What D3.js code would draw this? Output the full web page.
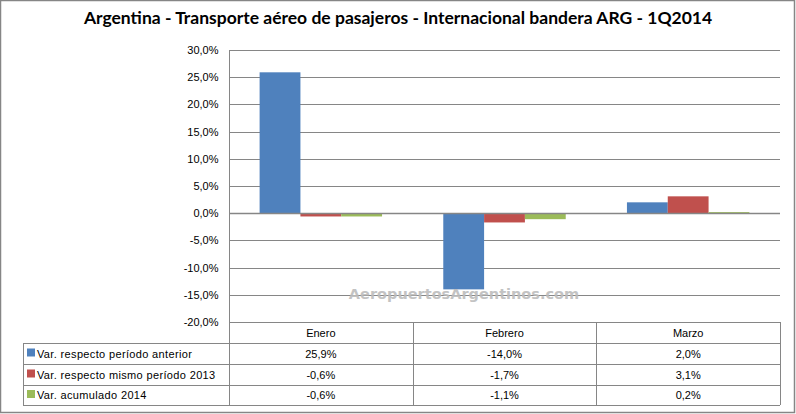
<!DOCTYPE html>
<html><head><meta charset="utf-8">
<script src="https://cdn.jsdelivr.net/npm/d3@7"></script>
<style>body{margin:0;background:#fff}svg{display:block}</style>
</head><body>
<script>
const title = "Argentina - Transporte aéreo de pasajeros - Internacional bandera ARG - 1Q2014";
const categories = ["Enero", "Febrero", "Marzo"];
const seriesNames = ["Var. respecto período anterior", "Var. respecto mismo período 2013", "Var. acumulado 2014"];
const seriesColors = ["#4F81BD", "#C0504D", "#9BBB59"];
const serieAnterior = [25.9, -14.0, 2.0];
const serieMismo2013 = [-0.6, -1.7, 3.1];
const serieAcumulado = [-0.6, -1.1, 0.2];
const yTicks = [30, 25, 20, 15, 10, 5, 0, -5, -10, -15, -20];
const watermark = "AeropuertosArgentinos.com";

(function () {
const series = [serieAnterior, serieMismo2013, serieAcumulado];
const W = 796, H = 414;
const pL = 229, pR = 780, pT = 50, pB = 322;
const fmt = v => v.toFixed(1).replace(".", ",") + "%";
const grid = "#868686";

const svg = d3.select("body").append("svg").attr("width", W).attr("height", H);
svg.append("rect").attr("x", 0.5).attr("y", 0.5).attr("width", W - 2).attr("height", H - 2)
  .attr("fill", "#fff").attr("stroke", "#868686").attr("stroke-width", 1.5);

svg.append("text").attr("x", 398).attr("y", 24).attr("text-anchor", "middle")
  .attr("font-family", "Lato, 'Open Sans', sans-serif").attr("font-weight", "bold")
  .attr("font-size", 17.5).attr("fill", "#000").text(title);

const y = d3.scaleLinear().domain([-20, 30]).range([pB, pT]);
const x = d3.scaleBand().domain(categories).range([pL, pR]).paddingInner(0).paddingOuter(0);
const gw = x.bandwidth() * 3 / 4.5;
const xs = d3.scaleBand().domain(d3.range(3)).range([0, gw]);

svg.append("g").selectAll("line").data(yTicks).join("line")
  .attr("x1", pL).attr("x2", pR)
  .attr("y1", d => Math.round(y(d)) + 0.5).attr("y2", d => Math.round(y(d)) + 0.5)
  .attr("stroke", grid).attr("stroke-width", 1);

const yAxis = d3.axisLeft(y).tickValues(yTicks).tickFormat(fmt).tickSize(0).tickPadding(11);
const ga = svg.append("g").attr("transform", `translate(${pL + 0.5},0)`).call(yAxis);
ga.select(".domain").attr("stroke", grid).attr("d", `M0,${pT}V${pB}`);
ga.selectAll("text").attr("font-family", "Liberation Sans, Arial, sans-serif").attr("font-size", 11).attr("fill", "#000");

series.forEach((s, i) => {
  svg.append("g").selectAll("rect").data(categories.map((c, j) => ({ c, v: s[j] }))).join("rect")
    .attr("x", d => x(d.c) + (x.bandwidth() - gw) / 2 + xs(i))
    .attr("width", xs.bandwidth())
    .attr("y", d => y(Math.max(0, d.v)))
    .attr("height", d => Math.abs(y(d.v) - y(0)))
    .attr("fill", seriesColors[i]);
});

// zero axis line on top of bars
svg.append("line").attr("x1", pL).attr("x2", pR)
  .attr("y1", Math.round(y(0)) + 0.5).attr("y2", Math.round(y(0)) + 0.5)
  .attr("stroke", grid).attr("stroke-width", 1.3);

svg.append("text").attr("x", 464).attr("y", 299).attr("text-anchor", "middle")
  .attr("font-family", "'DejaVu Sans', Verdana, sans-serif").attr("font-weight", "bold")
  .attr("font-size", 14.5).attr("fill", "#bdbdbd").attr("opacity", 0.9).text(watermark);

const rowH = [pB, 343, 364, 385, 405];
const legLeft = 23;
const tf = "Liberation Sans, Arial, sans-serif";
const tg = svg.append("g").attr("stroke", grid).attr("stroke-width", 1);
tg.append("line").attr("x1", pL).attr("x2", pR).attr("y1", rowH[0] + 0.5).attr("y2", rowH[0] + 0.5);
for (let r = 1; r < rowH.length; r++) {
  tg.append("line").attr("x1", legLeft).attr("x2", pR).attr("y1", rowH[r] + 0.5).attr("y2", rowH[r] + 0.5);
}
tg.append("line").attr("x1", legLeft + 0.5).attr("x2", legLeft + 0.5).attr("y1", rowH[1]).attr("y2", rowH[4]);
categories.concat([null]).forEach((c, j) => {
  const xx = Math.round(c === null ? pR : x(c)) + 0.5;
  tg.append("line").attr("x1", xx).attr("x2", xx).attr("y1", j === 0 ? pT : rowH[0]).attr("y2", rowH[4]);
});

svg.append("g").selectAll("text").data(categories).join("text")
  .attr("x", d => x(d) + x.bandwidth() / 2).attr("y", (rowH[0] + rowH[1]) / 2 + 4)
  .attr("text-anchor", "middle").attr("font-family", tf).attr("font-size", 11).text(d => d);

series.forEach((s, i) => {
  const cy = (rowH[i + 1] + rowH[i + 2]) / 2;
  svg.append("rect").attr("x", legLeft + 4).attr("y", cy - 5).attr("width", 8).attr("height", 8).attr("fill", seriesColors[i]);
  svg.append("text").attr("x", legLeft + 14).attr("y", cy + 4).attr("font-family", tf).attr("font-size", 11)
    .attr("letter-spacing", 0.35).text(seriesNames[i]);
  svg.append("g").selectAll("text").data(categories.map((c, j) => ({ c, v: s[j] }))).join("text")
    .attr("x", d => x(d.c) + x.bandwidth() / 2).attr("y", cy + 4).attr("text-anchor", "middle")
    .attr("font-family", tf).attr("font-size", 11).text(d => fmt(d.v));
});
})();
</script>
</body></html>
